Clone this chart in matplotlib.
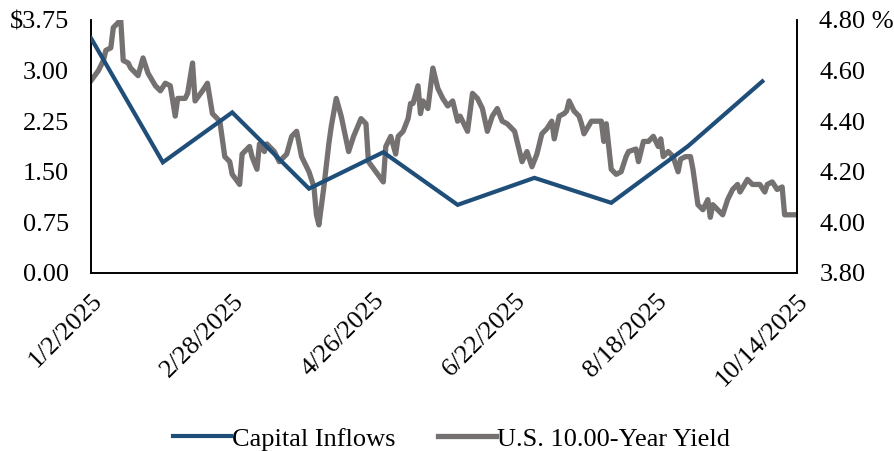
import matplotlib
matplotlib.use("Agg")
import matplotlib.pyplot as plt
import matplotlib.ticker as mticker
import pandas as pd

# Capital inflows (left axis, $)
inflow_dates = ["2025-01-02", "2025-01-31", "2025-02-28", "2025-03-31", "2025-04-30",
                "2025-05-30", "2025-06-30", "2025-07-31", "2025-08-31", "2025-09-30"]
inflow_values = [3.48, 1.64, 2.38, 1.25, 1.79, 1.01, 1.41, 1.04, 1.88, 2.84]

# U.S. 10-year yield (right axis, %)
yield_dates = [
    "2025-01-02", "2025-01-05", "2025-01-07", "2025-01-08", "2025-01-10", "2025-01-11",
    "2025-01-12", "2025-01-14", "2025-01-15", "2025-01-17", "2025-01-18", "2025-01-21",
    "2025-01-23", "2025-01-25", "2025-01-28", "2025-01-30", "2025-02-01", "2025-02-03",
    "2025-02-05", "2025-02-06", "2025-02-09", "2025-02-10", "2025-02-12", "2025-02-13",
    "2025-02-16", "2025-02-18", "2025-02-20", "2025-02-23", "2025-02-25", "2025-02-27",
    "2025-02-28", "2025-03-03", "2025-03-04", "2025-03-07", "2025-03-08", "2025-03-10",
    "2025-03-11", "2025-03-13", "2025-03-14", "2025-03-17", "2025-03-19", "2025-03-22",
    "2025-03-24", "2025-03-26", "2025-03-28", "2025-03-29", "2025-03-31", "2025-04-02",
    "2025-04-03", "2025-04-04", "2025-04-06", "2025-04-08", "2025-04-09", "2025-04-11",
    "2025-04-13", "2025-04-16", "2025-04-18", "2025-04-21", "2025-04-23", "2025-04-24",
    "2025-04-27", "2025-04-30", "2025-05-01", "2025-05-03", "2025-05-05", "2025-05-06",
    "2025-05-08", "2025-05-10", "2025-05-11", "2025-05-12", "2025-05-14", "2025-05-15",
    "2025-05-16", "2025-05-18", "2025-05-20", "2025-05-22", "2025-05-24", "2025-05-26",
    "2025-05-28", "2025-05-30", "2025-05-31", "2025-06-03", "2025-06-05", "2025-06-07",
    "2025-06-09", "2025-06-11", "2025-06-13", "2025-06-15", "2025-06-17", "2025-06-19",
    "2025-06-22", "2025-06-24", "2025-06-25", "2025-06-27", "2025-06-29", "2025-07-01",
    "2025-07-03", "2025-07-05", "2025-07-07", "2025-07-08", "2025-07-10", "2025-07-12",
    "2025-07-13", "2025-07-14", "2025-07-16", "2025-07-18", "2025-07-19", "2025-07-20",
    "2025-07-23", "2025-07-25", "2025-07-27", "2025-07-28", "2025-07-29", "2025-07-30",
    "2025-07-31", "2025-08-02", "2025-08-04", "2025-08-06", "2025-08-07", "2025-08-10",
    "2025-08-11", "2025-08-13", "2025-08-15", "2025-08-17", "2025-08-19", "2025-08-20",
    "2025-08-21", "2025-08-23", "2025-08-25", "2025-08-27", "2025-08-28", "2025-08-30",
    "2025-09-01", "2025-09-02", "2025-09-04", "2025-09-06", "2025-09-08", "2025-09-09",
    "2025-09-10", "2025-09-12", "2025-09-14", "2025-09-16", "2025-09-18", "2025-09-20",
    "2025-09-21", "2025-09-24", "2025-09-26", "2025-09-29", "2025-10-01", "2025-10-02",
    "2025-10-04", "2025-10-06", "2025-10-08", "2025-10-09", "2025-10-14",
]
yield_values = [
    4.56, 4.60, 4.64, 4.68, 4.69, 4.77,
    4.78, 4.80, 4.64, 4.63, 4.61, 4.58,
    4.65, 4.59, 4.54, 4.52, 4.55, 4.54,
    4.42, 4.49, 4.49, 4.51, 4.63, 4.48,
    4.52, 4.55, 4.43, 4.40, 4.26, 4.24,
    4.19, 4.15, 4.27, 4.30, 4.26, 4.21,
    4.31, 4.28, 4.31, 4.28, 4.24, 4.27,
    4.34, 4.36, 4.26, 4.24, 4.20, 4.14,
    4.03, 3.99, 4.14, 4.31, 4.38, 4.49,
    4.42, 4.28, 4.34, 4.41, 4.39, 4.24,
    4.20, 4.16, 4.30, 4.34, 4.27, 4.34,
    4.36, 4.41, 4.47, 4.47, 4.54, 4.43,
    4.48, 4.45, 4.61, 4.53, 4.49, 4.46,
    4.48, 4.40, 4.42, 4.36, 4.51, 4.49,
    4.45, 4.36, 4.42, 4.45, 4.40, 4.39,
    4.36, 4.28, 4.24, 4.28, 4.22, 4.27,
    4.35, 4.37, 4.40, 4.33, 4.42, 4.43,
    4.44, 4.48, 4.44, 4.42, 4.39, 4.35,
    4.40, 4.40, 4.40, 4.32, 4.39, 4.30,
    4.21, 4.19, 4.20, 4.26, 4.28, 4.29,
    4.24, 4.32, 4.32, 4.34, 4.30, 4.33,
    4.26, 4.28, 4.26, 4.20, 4.25, 4.26,
    4.26, 4.21, 4.07, 4.05, 4.09, 4.02,
    4.07, 4.05, 4.03, 4.09, 4.13, 4.15,
    4.12, 4.17, 4.15, 4.15, 4.12, 4.15,
    4.16, 4.13, 4.14, 4.03, 4.03,
]

tick_dates = ["2025-01-02", "2025-02-28", "2025-04-26", "2025-06-22", "2025-08-18", "2025-10-14"]
tick_labels = ["1/2/2025", "2/28/2025", "4/26/2025", "6/22/2025", "8/18/2025", "10/14/2025"]

blue = "#1F4E79"
gray = "#767171"

plt.rcParams['font.family'] = ['Liberation Serif', 'DejaVu Serif']
plt.rcParams['font.size'] = 19

fig = plt.figure(figsize=(8.94, 4.51), dpi=100)
ax = fig.add_axes([0.1018, 0.3947, 0.7897, 0.561])
ax2 = ax.twinx()

l1, = ax.plot(pd.to_datetime(inflow_dates), inflow_values, color=blue, lw=3,
              label="Capital Inflows", solid_joinstyle='miter', zorder=3)
l2, = ax2.plot(pd.to_datetime(yield_dates), yield_values, color=gray, lw=3.8,
               label="U.S. 10.00-Year Yield", solid_joinstyle='round')
ax.set_zorder(ax2.get_zorder() + 1)
ax.patch.set_visible(False)

ax.set_xlim(pd.Timestamp("2025-01-02"), pd.Timestamp("2025-10-14"))
ax.set_ylim(0, 3.75)
ax.yaxis.set_major_locator(mticker.MultipleLocator(0.75))
ax.yaxis.set_major_formatter(mticker.FuncFormatter(
    lambda v, p: f"${v:.2f}" if abs(v - 3.75) < 1e-6 else f"{v:.2f}"))
ax2.set_ylim(3.8, 4.8)
ax2.yaxis.set_major_locator(mticker.MultipleLocator(0.2))
ax2.yaxis.set_major_formatter(mticker.FuncFormatter(
    lambda v, p: f"{v:.2f} %" if abs(v - 4.8) < 1e-6 else f"{v:.2f}"))

ax.set_xticks(pd.to_datetime(tick_dates))
ax.set_xticklabels(tick_labels, rotation=45, ha='right', va='top', rotation_mode='anchor')

for a in (ax, ax2):
    a.spines['top'].set_visible(False)
    a.tick_params(length=0)
    for s in a.spines.values():
        s.set_linewidth(1.2)
ax.tick_params(axis='y', pad=16)
ax.tick_params(axis='x', pad=12)
ax2.tick_params(axis='y', pad=16)

fig.legend(handles=[l1, l2], loc='lower center', bbox_to_anchor=(0.505, -0.052),
           ncol=2, frameon=False, handlelength=2.2, handletextpad=0.05,
           columnspacing=1.6, fontsize=19)

fig.savefig("out.png", dpi=100)
